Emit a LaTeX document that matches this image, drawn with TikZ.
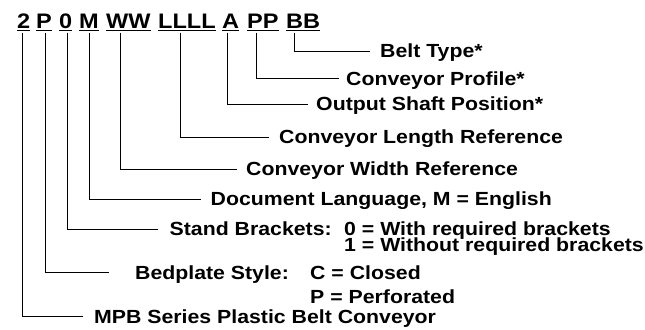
\documentclass[tikz,border=0pt]{standalone}
\usepackage{fontspec}
\setmainfont{Liberation Sans}[FakeStretch=1.12]
\begin{document}
\begin{tikzpicture}[x=1bp,y=-1bp,
  code/.style={anchor=base west,inner sep=0pt,font=\bfseries\fontsize{21bp}{21bp}\selectfont},
  lbl/.style={anchor=west,inner ysep=0pt,inner xsep=#1,text height=12.6bp,text depth=0pt,font=\bfseries\fontsize{19bp}{19bp}\selectfont},
  lbl/.default=10bp,
  sub/.style={anchor=base west,inner sep=0pt,font=\bfseries\fontsize{19bp}{19bp}\selectfont},
  conn/.style={line width=1bp},
  uline/.style={line width=1.6bp}]
\useasboundingbox (0,0) rectangle (645,329);
% code groups
\node[code] (g2) at (17,28.5) {2};
\node[code] (gP) at (36,28.5) {P};
\node[code] (g0) at (59,28.5) {0};
\node[code] (gM) at (79,28.5) {M};
\node[code] (gW) at (106,28.5) {WW};
\node[code] (gL) at (158,28.5) {LLLL};
\node[code] (gA) at (222,28.5) {A};
\node[code] (gPP) at (247,28.5) {PP};
\node[code] (gB) at (286,28.5) {BB};
\foreach \g in {g2,gP,g0,gM,gW,gL,gA,gPP,gB}
  \draw[uline] ([yshift=-2bp]\g.base west) -- ([yshift=-2bp]\g.base east);
% connector start points
\coordinate (c2) at (22.3,32.5);
\coordinate (cP) at (45.3,32.5);
\coordinate (c0) at (67.7,32.5);
\coordinate (cM) at (89,32.5);
\coordinate (cW) at (120,32.5);
\coordinate (cL) at (180.3,32.5);
\coordinate (cA) at (227.7,32.5);
\coordinate (cPP) at (256.7,32.5);
\coordinate (cB) at (294.7,32.5);
% labels
\node[lbl=10bp] (tB) at (370,51) {Belt Type*};
\node[lbl=7bp] (tPP) at (339,78.7) {Conveyor Profile*};
\node[lbl=8bp] (tA) at (308,104.3) {Output Shaft Position*};
\node[lbl=10bp] (tL) at (269,137.3) {Conveyor Length Reference};
\node[lbl=9bp] (tW) at (237,169) {Conveyor Width Reference};
\node[lbl=9.5bp] (tM) at (201,199) {Document Language, M = English};
\node[lbl=11.5bp] (t0) at (158,229) {Stand Brackets:};
\node[sub] (t0a) at (344,235.3) {0 = With required brackets};
\node[sub] (t0b) at (344,251.3) {1 = Without required brackets};
\node[lbl=26bp] (tP) at (109,272.7) {Bedplate Style:};
\node[sub] (tPa) at (310,279.5) {C = Closed};
\node[sub] (tPb) at (310,303.5) {P = Perforated};
\node[lbl=11bp] (t2) at (83,316.7) {MPB Series Plastic Belt Conveyor};
% connectors
\draw[conn] (cB) |- (tB.west);
\draw[conn] (cPP) |- (tPP.west);
\draw[conn] (cA) |- (tA.west);
\draw[conn] (cL) |- (tL.west);
\draw[conn] (cW) |- (tW.west);
\draw[conn] (cM) |- (tM.west);
\draw[conn] (c0) |- (t0.west);
\draw[conn] (cP) |- (tP.west);
\draw[conn] (c2) |- (t2.west);
\end{tikzpicture}
\end{document}
